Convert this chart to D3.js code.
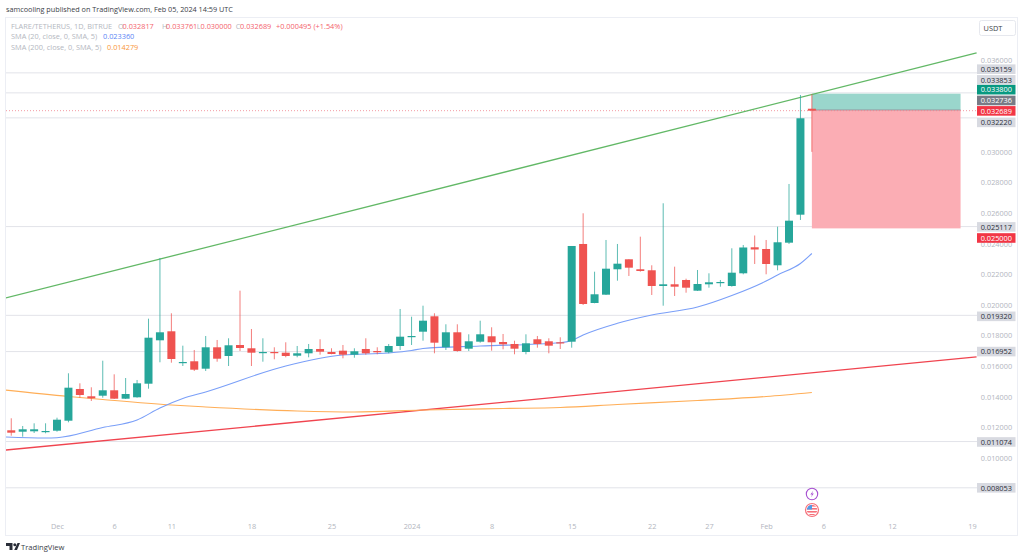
<!DOCTYPE html>
<html>
<head>
<meta charset="utf-8">
<script src="https://cdn.jsdelivr.net/npm/d3@7"></script>
<style>
html,body{margin:0;padding:0;background:#fff;overflow:hidden}
svg{display:block}
text{font-family:"Open Sans","Noto Sans",sans-serif}
</style>
</head>
<body>
<svg id="chart" width="1024" height="558"></svg>
<script>
// FLARE/USDT daily candles, day offsets counted from 1 Dec 2023
const firstCandleDay = -4;
const opens = [.011810,.011718,.011744,.011718,.011784,.012437,.014508,.014031,.014070,.014423,.013874,.013966,.014854,.017689,.018277,.016226,.016318,.015834,.017232,.016664,.017382,.017167,.016879,.016925,.016879,.016683,.016840,.017121,.016925,.017010,.016749,.017121,.016990,.016906,.017317,.017925,.018251,.019257,.017232,.018212,.017141,.017598,.017951,.017578,.017448,.016925,.017755,.017624,.017559,.017598,.023981,.020126,.020669,.022328,.022981,.022328,.022263,.021237,.021348,.021629,.020930,.021348,.021452,.021237,.022066,.023765,.023654,.022589,.024066,.025895,.032817];
const highs = [.012594,.012091,.012267,.012267,.012633,.015533,.014880,.014619,.016357,.015468,.015226,.015096,.019101,.023066,.019453,.017337,.017056,.017970,.017709,.017820,.020930,.018428,.017820,.017232,.017559,.017317,.017448,.017755,.017167,.017382,.017167,.017820,.017232,.017448,.019734,.019231,.019950,.019453,.018735,.018735,.018081,.018970,.018539,.018101,.017663,.018081,.017970,.017820,.017885,.023850,.025986,.022171,.024242,.023981,.022981,.024458,.022589,.026640,.022498,.021714,.022282,.022066,.021629,.023700,.023915,.024536,.024242,.025111,.027900,.033715,.033761];
const lows = [.011457,.011392,.011633,.011614,.011718,.012332,.013939,.013724,.013939,.013854,.013854,.013939,.014527,.016252,.016226,.016010,.015684,.015684,.016291,.016010,.016990,.016010,.016291,.016448,.016579,.016579,.016579,.016749,.016775,.016513,.016553,.016749,.016775,.016840,.017056,.017382,.017663,.016840,.017056,.016945,.016990,.017533,.017010,.017101,.016775,.016775,.017206,.016840,.017121,.017206,.019995,.020107,.020649,.021583,.021890,.022171,.020649,.019950,.020583,.020799,.020910,.021126,.021191,.021191,.022001,.022674,.022001,.022263,.023981,.025549,.030000];
const closes = [.011653,.011875,.011875,.011764,.012502,.014593,.014116,.013900,.014423,.013874,.014181,.014880,.017859,.018212,.016468,.016272,.015769,.017232,.016487,.017363,.017186,.016879,.016925,.016879,.016664,.016840,.017121,.016945,.016794,.016749,.016971,.016840,.016906,.017317,.017925,.017970,.018970,.017533,.018212,.016990,.017624,.018081,.017559,.017428,.017141,.017493,.017448,.017337,.017533,.023850,.020061,.020695,.022367,.022694,.022433,.022217,.021237,.021348,.021191,.021126,.021367,.021478,.021498,.022106,.023752,.023621,.022674,.024092,.025503,.032194,.032689];

// Moving averages, read at the listed day offsets
const sma20Days = [-5,-1,0,4,7,9,11,13,20,25,29,31,32,37,44,45,46,49,52,56,59,62,63,65,66];
const sma20Values = [.011392,.011307,.011326,.011993,.012483,.013267,.013887,.014312,.016010,.016729,.016860,.017023,.017154,.017317,.017533,.017676,.018036,.018800,.019342,.019865,.020616,.021563,.021955,.022707,.023360];
const sma200Days = [-5,1,4,10,13,21,26,32,39,44,49,56,62,66];
const sma200Values = [.014475,.014018,.013822,.013462,.013332,.013070,.013005,.013136,.013234,.013299,.013495,.013757,.014018,.014279];

// Trend lines: [day, price] end points
const greenTrend = [[-4.5,.02045],[80.4,.03646]];
const redTrend = [[-4.5,.01052],[80.4,.0166]];

// Horizontal levels and the short position drawing
const levels = [.035159,.033853,.032220,.025117,.019320,.016952,.011074,.008053];
const position = {startDay:66, endDay:79, target:.0338, entry:.032736, stop:.025};
const lastPrice = .032689;

// Axis ticks
const priceTicks = [.036,.03,.028,.026,.024,.022,.02,.018,.016,.014,.012,.01];
const dayTicks = [0,5,10,17,24,31,38,45,52,57,62,67,73,80];
const dayTickLabels = ["Dec","6","11","18","25","2024","8","15","22","27","Feb","6","12","19"];

// Price-scale tags: value, background, text colour, vertical nudge to keep them stacked
const tagValues = [.035159,.033853,.0338,.032736,.032689,.03222,.025117,.025,.01932,.016952,.011074,.008053];
const tagColors = ["#d8dae1","#d8dae1","#089981","#787b86","#f23645","#d8dae1","#d8dae1","#f23645","#d8dae1","#d8dae1","#d8dae1","#d8dae1"];
const tagTextColors = ["#2a2e39","#2a2e39","#fff","#fff","#fff","#2a2e39","#2a2e39","#fff","#2a2e39","#2a2e39","#2a2e39","#2a2e39"];
const tagOffsets = [-3.7,-13,-4,-9.5,.2,4.5,.3,9.6,1,0,.4,0];

const UP = "#26a69a", DOWN = "#ef5350";
const svg = d3.select("#chart");
const plot = {left:6, right:977, top:18, bottom:535};
const FONT_SIZE = 7.35;

const x = d3.scaleLinear().domain([0,80]).range([57,972]);
const y = d3.scaleLinear().domain([.01,.036]).range([458,60]);

svg.append("defs").append("clipPath").attr("id","plotClip").append("rect")
  .attr("x",plot.left).attr("y",plot.top)
  .attr("width",plot.right-plot.left).attr("height",plot.bottom-plot.top);
svg.select("defs").append("clipPath").attr("id","flagClip").append("circle")
  .attr("cx",812).attr("cy",510).attr("r",5.2);

// Frame
svg.append("rect").attr("x",5.5).attr("y",17.5).attr("width",1012).attr("height",518)
  .attr("fill","#fff").attr("stroke","#eceef4");

const chart = svg.append("g").attr("clip-path","url(#plotClip)");

// Level lines
chart.selectAll("line.level").data(levels).join("line")
  .attr("class","level")
  .attr("x1",plot.left).attr("x2",plot.right)
  .attr("y1",d=>y(d)).attr("y2",d=>y(d))
  .attr("stroke","#e2e3e9").attr("stroke-width",1);

// Position box
const posX = x(position.startDay), posW = x(position.endDay)-x(position.startDay);
chart.append("rect").attr("x",posX).attr("width",posW)
  .attr("y",y(position.target)).attr("height",y(position.entry)-y(position.target))
  .attr("fill","#9ad6cc");
chart.append("rect").attr("x",posX).attr("width",posW)
  .attr("y",y(position.entry)).attr("height",y(position.stop)-y(position.entry))
  .attr("fill","#fbadb4");
chart.append("line").attr("x1",posX).attr("x2",posX+posW)
  .attr("y1",y(position.entry)).attr("y2",y(position.entry))
  .attr("stroke","#8a8f99").attr("stroke-width",.8);

// Last-price dotted line
chart.append("line").attr("x1",plot.left).attr("x2",plot.right)
  .attr("y1",y(lastPrice)).attr("y2",y(lastPrice))
  .attr("stroke","#f0808a").attr("stroke-width",.8).attr("stroke-dasharray","1 2");

// Trend lines
const trend = d3.line().x(d=>x(d[0])).y(d=>y(d[1]));
chart.append("path").attr("d",trend(greenTrend)).attr("fill","none")
  .attr("stroke","#62b866").attr("stroke-width",1.3);
chart.append("path").attr("d",trend(redTrend)).attr("fill","none")
  .attr("stroke","#f0444f").attr("stroke-width",1.3);

// Moving averages
const maLine = d3.line().curve(d3.curveMonotoneX).x(d=>x(d[0])).y(d=>y(d[1]));
chart.append("path").attr("d",maLine(d3.zip(sma200Days,sma200Values))).attr("fill","none")
  .attr("stroke","#ffae57").attr("stroke-width",1.1);
chart.append("path").attr("d",maLine(d3.zip(sma20Days,sma20Values))).attr("fill","none")
  .attr("stroke","#7a9ff8").attr("stroke-width",1.1);

// Candles
const candles = d3.range(opens.length).map(i=>({
  day:firstCandleDay+i, o:opens[i], h:highs[i], l:lows[i], c:closes[i]
}));
const bodyWidth = 8;
const candle = chart.selectAll("g.candle").data(candles).join("g").attr("class","candle");
candle.append("line")
  .attr("x1",d=>x(d.day)).attr("x2",d=>x(d.day))
  .attr("y1",d=>y(d.h)).attr("y2",d=>y(d.l))
  .attr("stroke",d=>d.c>=d.o?UP:DOWN).attr("stroke-width",1).attr("stroke-opacity",.75);
candle.append("rect")
  .attr("x",d=>x(d.day)-bodyWidth/2).attr("width",bodyWidth)
  .attr("y",d=>y(Math.max(d.o,d.c)))
  .attr("height",d=>Math.max(1.2,Math.abs(y(d.o)-y(d.c))))
  .attr("fill",d=>d.c>=d.o?UP:DOWN);

// Time axis
const xAxis = d3.axisBottom(x).tickValues(dayTicks).tickSize(0)
  .tickFormat((d,i)=>dayTickLabels[i]);
const xg = svg.append("g").attr("transform","translate(0,520)").call(xAxis);
xg.select(".domain").remove();
xg.selectAll("text").attr("y",3.5).attr("dy",".71em").attr("font-size",FONT_SIZE)
  .attr("font-family",'"Open Sans",sans-serif').attr("fill","#b2b5be");

// Price axis
const yAxis = d3.axisRight(y).tickValues(priceTicks).tickSize(0).tickFormat(d3.format(".6f"));
const yg = svg.append("g").attr("transform","translate(996.5,0)").call(yAxis);
yg.select(".domain").remove();
yg.selectAll("text").attr("x",0).attr("text-anchor","middle").attr("font-size",FONT_SIZE)
  .attr("font-family",'"Open Sans",sans-serif').attr("fill","#b2b5be");

// Price tags
const tags = svg.selectAll("g.tag").data(tagValues).join("g").attr("class","tag")
  .attr("transform",(d,i)=>`translate(0,${y(d)+tagOffsets[i]})`);
tags.append("rect").attr("x",977).attr("y",-4.8).attr("width",38.5).attr("height",9.6)
  .attr("fill",(d,i)=>tagColors[i]);
tags.append("text").attr("x",996.3).attr("y",2.7).attr("text-anchor","middle")
  .attr("font-size",FONT_SIZE).attr("fill",(d,i)=>tagTextColors[i]).text(d=>d.toFixed(6));

// Currency button
svg.append("rect").attr("x",979.5).attr("y",20.5).attr("width",36).attr("height",15).attr("rx",2)
  .attr("fill","#fff").attr("stroke","#e6e8ee");
svg.append("text").attr("x",993).attr("y",31).attr("text-anchor","middle")
  .attr("font-size",FONT_SIZE).attr("fill","#3a3e48").text("USDT");

// Header and legend
svg.append("text").attr("x",6).attr("y",12).attr("font-size",7.25).attr("fill","#3a3e48")
  .text("samcooling published on TradingView.com, Feb 05, 2024 14:59 UTC");
const GREY = "#b4b7c0", RED = "#f4636d";
const legendRow = [
  ["FLARE/TETHERUS, 1D, BITRUE",11,GREY],["O",118,GREY],["0.032817",122.5,RED],
  ["H",162,GREY],["0.033761",166,RED],["L",196.7,GREY],["0.030000",200.5,RED],
  ["C",235.8,GREY],["0.032689",240,RED],["+0.000495 (+1.54%)",276,RED],
  ["SMA (20, close, 0, SMA, 5)",11,GREY,39],["0.023360",103,"#5b86f5",39],
  ["SMA (200, close, 0, SMA, 5)",11,GREY,50],["0.014279",107,"#f9973a",50]
];
svg.selectAll("text.legend").data(legendRow).join("text").attr("class","legend")
  .attr("x",d=>d[1]).attr("y",d=>d[3]||29).attr("fill",d=>d[2]).attr("font-size",FONT_SIZE).text(d=>d[0]);

// Event markers under the last candle
svg.append("circle").attr("cx",812).attr("cy",494).attr("r",5.7).attr("fill","#fff")
  .attr("stroke","#a64ed0").attr("stroke-width",1.1);
svg.append("path").attr("d","M813.4 490.5 L810.4 494.6 L812.2 494.6 L810.8 497.6 L813.8 493.4 L812 493.4 Z")
  .attr("fill","#a64ed0");
svg.append("circle").attr("cx",812).attr("cy",510).attr("r",6.5).attr("fill","#fff")
  .attr("stroke","#f6707a").attr("stroke-width",1.2);
const flag = svg.append("g").attr("clip-path","url(#flagClip)");
flag.selectAll("rect.stripe").data([505,508,511,514]).join("rect").attr("class","stripe")
  .attr("x",806).attr("y",d=>d).attr("width",12).attr("height",1.6).attr("fill","#f6707a");
flag.append("rect").attr("x",806).attr("y",504).attr("width",6).attr("height",5.5).attr("fill","#4f9be8");

// Footer brand
svg.append("path").attr("d","M6 543 H12.5 V550 H9.5 V546 H6 Z M17.5 543 H20 L17 550 H14.2 Z").attr("fill","#2a2e39");
svg.append("circle").attr("cx",14.8).attr("cy",544.8).attr("r",1.5).attr("fill","#2a2e39");
svg.append("text").attr("x",21).attr("y",550).attr("font-size",7.6).attr("fill","#3a3e48").text("TradingView");
</script>
</body>
</html>
